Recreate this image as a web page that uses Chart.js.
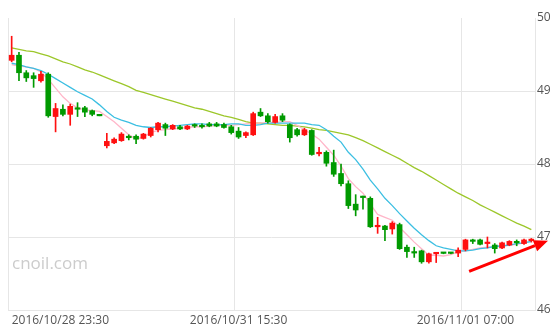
<!DOCTYPE html>
<html><head><meta charset="utf-8">
<script src="https://cdn.jsdelivr.net/npm/chart.js@4.4.1/dist/chart.umd.min.js"></script>
<style>html,body{margin:0;padding:0;background:#fff;}#wrap{width:556px;height:327px;}</style>
</head><body><div id="wrap"><canvas id="c" width="556" height="327"></canvas></div>
<script>
const labels = [
"2016/10/28 23:30","2016/10/29 00:00","2016/10/29 00:30","2016/10/29 01:00","2016/10/29 01:30","2016/10/29 02:00","2016/10/29 02:30","2016/10/29 03:00","2016/10/29 03:30","2016/10/29 04:00","2016/10/29 04:30","2016/10/29 05:00",
"2016/10/31 06:00","2016/10/31 06:30","2016/10/31 07:00","2016/10/31 07:30","2016/10/31 08:00","2016/10/31 08:30","2016/10/31 09:00","2016/10/31 09:30","2016/10/31 10:00","2016/10/31 10:30","2016/10/31 11:00","2016/10/31 11:30","2016/10/31 12:00","2016/10/31 12:30","2016/10/31 13:00","2016/10/31 13:30","2016/10/31 14:00","2016/10/31 14:30","2016/10/31 15:00","2016/10/31 15:30",
"2016/10/31 16:00","2016/10/31 16:30","2016/10/31 17:00","2016/10/31 17:30","2016/10/31 18:00","2016/10/31 18:30","2016/10/31 19:00","2016/10/31 19:30","2016/10/31 20:00","2016/10/31 20:30","2016/10/31 21:00","2016/10/31 21:30","2016/10/31 22:00","2016/10/31 22:30","2016/10/31 23:00","2016/10/31 23:30",
"2016/11/01 00:00","2016/11/01 00:30","2016/11/01 01:00","2016/11/01 01:30","2016/11/01 02:00","2016/11/01 02:30","2016/11/01 03:00","2016/11/01 03:30","2016/11/01 04:00","2016/11/01 04:30","2016/11/01 05:00","2016/11/01 05:30","2016/11/01 06:00","2016/11/01 06:30","2016/11/01 07:00","2016/11/01 07:30","2016/11/01 08:00","2016/11/01 08:30","2016/11/01 09:00","2016/11/01 09:30","2016/11/01 10:00","2016/11/01 10:30","2016/11/01 11:00","2016/11/01 11:30"
];
const xTickLabels = ["2016/10/28 23:30","2016/10/31 15:30","2016/11/01 07:00"];
const yTickValues = [46,47,48,49,50];

const opens = [
49.42,49.49,49.25,49.21,49.14,49.23,48.65,48.75,48.68,48.77,
48.77,48.73,48.67,48.25,48.29,48.32,48.37,48.38,48.35,48.39,
48.47,48.54,48.48,48.51,48.48,48.53,48.53,48.55,48.55,48.54,
48.51,48.45,48.39,48.40,48.71,48.66,48.57,48.66,48.54,48.47,
48.40,48.46,48.14,48.16,48.02,47.87,47.73,47.45,47.55,47.53,
47.14,47.15,47.11,47.17,46.86,46.80,46.81,46.66,46.77,46.785,
46.785,46.78,46.83,46.95,46.96,46.91,46.89,46.85,46.89,46.93,
46.91,46.95];
const highs = [
49.75,49.53,49.28,49.25,49.27,49.25,48.83,48.81,48.82,48.84,
48.79,48.74,48.68,48.42,48.36,48.43,48.40,48.40,48.42,48.50,
48.57,48.56,48.54,48.53,48.53,48.55,48.55,48.57,48.57,48.56,
48.53,48.50,48.44,48.71,48.76,48.69,48.68,48.69,48.55,48.49,
48.49,48.47,48.23,48.18,48.19,48.00,47.77,47.58,47.56,47.55,
47.27,47.16,47.21,47.19,46.89,46.86,46.82,46.78,46.79,46.79,
46.79,46.85,46.97,46.97,46.97,47.00,46.91,46.93,46.95,46.96,
46.97,46.98];
const lows = [
49.40,49.14,49.13,49.05,49.12,48.64,48.44,48.66,48.53,48.65,
48.65,48.66,48.66,48.22,48.28,48.31,48.33,48.28,48.34,48.37,
48.44,48.39,48.47,48.47,48.47,48.50,48.49,48.51,48.51,48.49,
48.41,48.35,48.36,48.39,48.65,48.56,48.56,48.58,48.30,48.38,
48.39,48.12,48.11,47.97,47.83,47.70,47.39,47.29,47.38,47.13,
47.05,46.95,47.04,46.83,46.72,46.72,46.64,46.64,46.65,46.77,
46.77,46.73,46.81,46.91,46.89,46.85,46.78,46.84,46.88,46.88,
46.90,46.93];
const closes = [
49.49,49.25,49.18,49.17,49.23,48.66,48.76,48.68,48.79,48.75,
48.71,48.68,48.66,48.31,48.34,48.41,48.36,48.34,48.41,48.49,
48.56,48.49,48.53,48.48,48.52,48.52,48.51,48.52,48.52,48.50,
48.43,48.37,48.43,48.69,48.66,48.58,48.65,48.60,48.36,48.40,
48.47,48.13,48.16,48.01,47.86,47.73,47.43,47.37,47.54,47.14,
47.16,47.10,47.19,46.84,46.80,46.78,46.66,46.77,46.78,46.775,
46.775,46.82,46.96,46.94,46.90,46.92,46.84,46.92,46.94,46.92,
46.96,46.96];

const maShort = [
49.36,49.34,49.33,49.31,49.26,49.16,49.04,48.92,48.83,48.77,
48.74,48.73,48.72,48.65,48.58,48.49,48.40,48.34,48.37,48.43,
48.46,48.47,48.48,48.49,48.50,48.51,48.51,48.52,48.53,48.53,
48.53,48.54,48.55,48.56,48.56,48.57,48.57,48.58,48.58,48.53,
48.47,48.41,48.34,48.23,48.12,47.97,47.80,47.69,47.60,47.45,
47.31,47.27,47.23,47.13,47.03,46.93,46.84,46.75,46.75,46.74,
46.76,46.80,46.81,46.83,46.85,46.86,46.87,46.87,46.89,46.90,
46.92,46.94];
const maMid = [
49.38,49.36,49.33,49.31,49.28,49.23,49.17,49.11,49.05,48.99,
48.94,48.89,48.81,48.72,48.64,48.60,48.57,48.53,48.51,48.50,
48.51,48.51,48.52,48.53,48.54,48.55,48.55,48.54,48.54,48.54,
48.55,48.55,48.53,48.53,48.54,48.56,48.56,48.56,48.56,48.56,
48.56,48.54,48.53,48.47,48.38,48.30,48.16,48.06,47.93,47.78,
47.66,47.53,47.43,47.32,47.22,47.12,47.03,46.95,46.88,46.85,
46.83,46.81,46.81,46.82,46.84,46.85,46.87,46.88,46.89,46.91,
46.92,46.94];
const maLong = [
49.59,49.57,49.55,49.54,49.51,49.48,49.44,49.40,49.37,49.33,
49.29,49.26,49.22,49.18,49.14,49.10,49.06,49.01,48.98,48.95,
48.92,48.89,48.86,48.83,48.80,48.77,48.75,48.72,48.69,48.66,
48.64,48.61,48.58,48.56,48.56,48.55,48.54,48.53,48.53,48.52,
48.51,48.49,48.47,48.46,48.44,48.42,48.40,48.36,48.32,48.27,
48.22,48.17,48.12,48.07,48.01,47.95,47.90,47.84,47.78,47.72,
47.66,47.60,47.55,47.50,47.44,47.39,47.34,47.29,47.24,47.19,
47.15,47.10];

const UP = '#ff1010', DOWN = '#009a00';
const GRID = '#e6e6e6';
const FONT = {family: '"Open Sans", "Noto Sans", sans-serif', size: 12};
const isUp = i => closes[i] >= opens[i];

const decor = {
  id: 'decor',
  beforeDatasetsDraw(chart) {
    const {ctx, chartArea} = chart;
    ctx.save();
    ctx.fillStyle = '#cccccc';
    ctx.font = '17px "Open Sans", sans-serif';
    ctx.textBaseline = 'alphabetic';
    ctx.fillText('cnoil.com', chartArea.left + 4, chartArea.bottom - 41);
    ctx.restore();
  },
  afterDraw(chart) {
    const {ctx, chartArea, scales: {x, y}} = chart;
    const x1 = x.getPixelForValue(62.5), y1 = y.getPixelForValue(46.53);
    const x2 = chartArea.right + 13, y2 = y.getPixelForValue(46.95);
    const a = Math.atan2(y2 - y1, x2 - x1);
    const hl = 14, hw = 6;
    const bx = x2 - hl * Math.cos(a), by = y2 - hl * Math.sin(a);
    ctx.save();
    ctx.strokeStyle = '#ff0000';
    ctx.fillStyle = '#ff0000';
    ctx.lineWidth = 3;
    ctx.beginPath(); ctx.moveTo(x1, y1); ctx.lineTo(bx, by); ctx.stroke();
    ctx.beginPath();
    ctx.moveTo(x2, y2);
    ctx.lineTo(bx + hw * Math.sin(a), by - hw * Math.cos(a));
    ctx.lineTo(bx - hw * Math.sin(a), by + hw * Math.cos(a));
    ctx.closePath(); ctx.fill();
    ctx.restore();
  }
};

new Chart(document.getElementById('c'), {
  type: 'bar',
  data: {
    labels: labels,
    datasets: [
      {type: 'bar', data: lows.map((l, i) => [l, highs[i]]), backgroundColor: c => isUp(c.dataIndex) ? UP : DOWN,
       barThickness: 1, grouped: false, order: 1},
      {type: 'bar', data: opens.map((o, i) => [o, closes[i]]), backgroundColor: c => isUp(c.dataIndex) ? UP : DOWN,
       barThickness: 5, grouped: false, minBarLength: 1.5, order: 0},
      {type: 'line', data: maLong, borderColor: '#9cc72a', borderWidth: 1.3, pointRadius: 0, fill: false, order: 3},
      {type: 'line', data: maMid, borderColor: '#3cbfe2', borderWidth: 1.3, pointRadius: 0, fill: false, order: 2},
      {type: 'line', data: maShort, borderColor: '#ffb6c9', borderWidth: 1.3, pointRadius: 0, fill: false, order: 2}
    ]
  },
  options: {
    responsive: false, animation: false, events: [],
    layout: {autoPadding: false, padding: {left: 8, top: 18, right: 0, bottom: 0}},
    plugins: {legend: {display: false}, tooltip: {enabled: false}},
    scales: {
      x: {
        offset: true,
        grid: {offset: true, drawTicks: false, lineWidth: 1,
               color: c => (c.index < labels.length && xTickLabels.includes(labels[c.index])) ? GRID : 'rgba(0,0,0,0)'},
        border: {display: true, color: GRID},
        ticks: {autoSkip: false, maxRotation: 0, minRotation: 0, align: 'inner', padding: 3, color: '#555', font: FONT,
                callback: (v, i) => xTickLabels.includes(labels[i]) ? labels[i] : ''},
        afterFit: s => { s.height = 17; }
      },
      y: {
        position: 'right', min: 46, max: 50,
        grid: {drawTicks: false, color: c => (c.tick && c.tick.value === 50) ? 'rgba(0,0,0,0)' : GRID},
        border: {display: true, color: GRID},
        ticks: {padding: 2, color: '#555', font: FONT},
        afterBuildTicks: s => { s.ticks = yTickValues.map(v => ({value: v})); },
        afterFit: s => { s.width = 21; }
      }
    }
  },
  plugins: [decor]
});
</script></body></html>
